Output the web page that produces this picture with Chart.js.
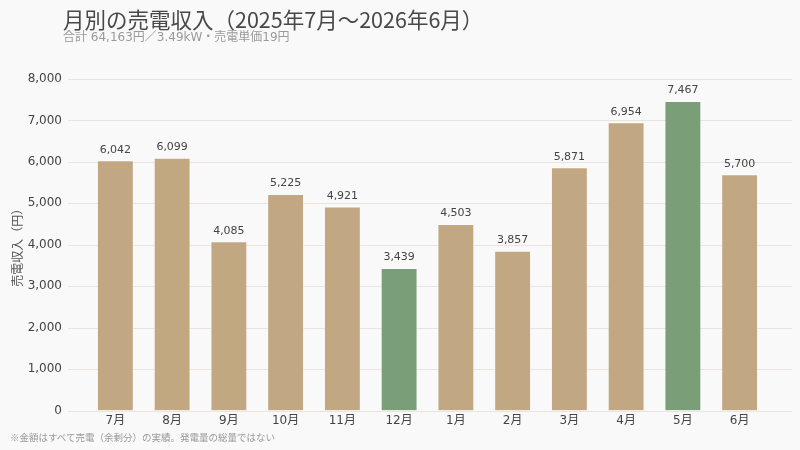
<!DOCTYPE html>
<html>
<head>
<meta charset="utf-8">
<script src="https://cdn.jsdelivr.net/npm/chart.js@4/dist/chart.umd.min.js"></script>
<style>
  body { margin: 0; background: #f9f9f9; font-family: "DejaVu Sans", "Noto Sans CJK JP", sans-serif; }
  #wrap { position: relative; width: 800px; height: 450px; }
  #title { position: absolute; left: 63px; top: 3px; font-size: 21.5px; color: #484848; font-family: "Noto Sans CJK JP", sans-serif; }
  #sub { position: absolute; left: 63px; top: 27px; font-size: 12px; color: #9a9a9a; }
  #note { position: absolute; left: 10px; top: 430px; font-size: 9.5px; color: #999; font-family: "Noto Sans CJK JP", sans-serif; }
</style>
</head>
<body>
<div id="wrap">
  <canvas id="BarChart" width="800" height="450"></canvas>
  <div id="title">月別の売電収入（2025年7月～2026年6月）</div>
  <div id="sub">合計 64,163円／3.49kW・売電単価19円</div>
  <div id="note">※金額はすべて売電（余剰分）の実績。発電量の総量ではない</div>
</div>
<script>
// monthly sales income
const months = ['7月', '8月', '9月', '10月', '11月', '12月', '1月', '2月', '3月', '4月', '5月', '6月'];
const income = [6042, 6099, 4085, 5225, 4921, 3439, 4503, 3857, 5871, 6954, 7467, 5700];
const yTicks = [0, 1000, 2000, 3000, 4000, 5000, 6000, 7000, 8000];

const tan = '#c1a882';
const green = '#7a9e78';
const gridColor = '#e9e4df';
// min and max get the green colour
const lo = Math.min(...income), hi = Math.max(...income);
const barColors = income.map(v => (v === lo || v === hi) ? green : tan);

// grid lines run wider than the bar area
const wideGrid = {
    id: 'wideGrid',
    beforeDatasetsDraw(chart) {
        const ctx = chart.ctx;
        const y = chart.scales.y;
        ctx.save();
        ctx.strokeStyle = gridColor;
        ctx.lineWidth = 1;
        yTicks.forEach(v => {
            const py = Math.round(y.getPixelForValue(v)) + 0.5;
            ctx.beginPath();
            ctx.moveTo(68, py);
            ctx.lineTo(792, py);
            ctx.stroke();
        });
        ctx.restore();
    }
};

// value labels on top of bars
const valueLabels = {
    id: 'valueLabels',
    afterDatasetsDraw(chart) {
        const ctx = chart.ctx;
        const meta = chart.getDatasetMeta(0);
        ctx.save();
        ctx.font = '11px "DejaVu Sans", sans-serif';
        ctx.fillStyle = '#444';
        ctx.textAlign = 'center';
        ctx.textBaseline = 'bottom';
        meta.data.forEach((bar, i) => {
            ctx.fillText(income[i].toLocaleString('en-US'), bar.x, bar.y - 5);
        });
        ctx.restore();
    }
};

new Chart(document.getElementById('BarChart'), {
    type: 'bar',
    data: {
        labels: months,
        datasets: [{
            data: income,
            backgroundColor: barColors,
            borderColor: 'rgba(255,255,255,0.35)',
            borderWidth: 1,
            barPercentage: 0.65,
            categoryPercentage: 1
        }]
    },
    options: {
        responsive: false,
        animation: false,
        layout: { padding: { top: 79, right: 32, bottom: 19, left: 8 } },
        plugins: {
            legend: { display: false },
            tooltip: { enabled: false }
        },
        scales: {
            y: {
                min: 0,
                max: 8000,
                afterBuildTicks: axis => { axis.ticks = yTicks.map(v => ({ value: v })); },
                afterFit: axis => { axis.width = 79; },
                ticks: {
                    color: '#444',
                    font: { size: 12, family: '"DejaVu Sans", sans-serif' },
                    padding: 25,
                    callback: v => v.toLocaleString('en-US')
                },
                grid: { display: false, drawTicks: false },
                border: { display: false },
                title: {
                    display: true,
                    text: '売電収入（円）',
                    color: '#555',
                    font: { size: 12, family: '"Noto Sans CJK JP", sans-serif' },
                    padding: 2
                }
            },
            x: {
                ticks: {
                    color: '#444',
                    font: { size: 12, family: '"DejaVu Sans", "Noto Sans CJK JP", sans-serif' },
                    padding: 3
                },
                grid: { display: false, drawTicks: false },
                border: { display: false }
            }
        }
    },
    plugins: [wideGrid, valueLabels]
});
</script>
</body>
</html>
